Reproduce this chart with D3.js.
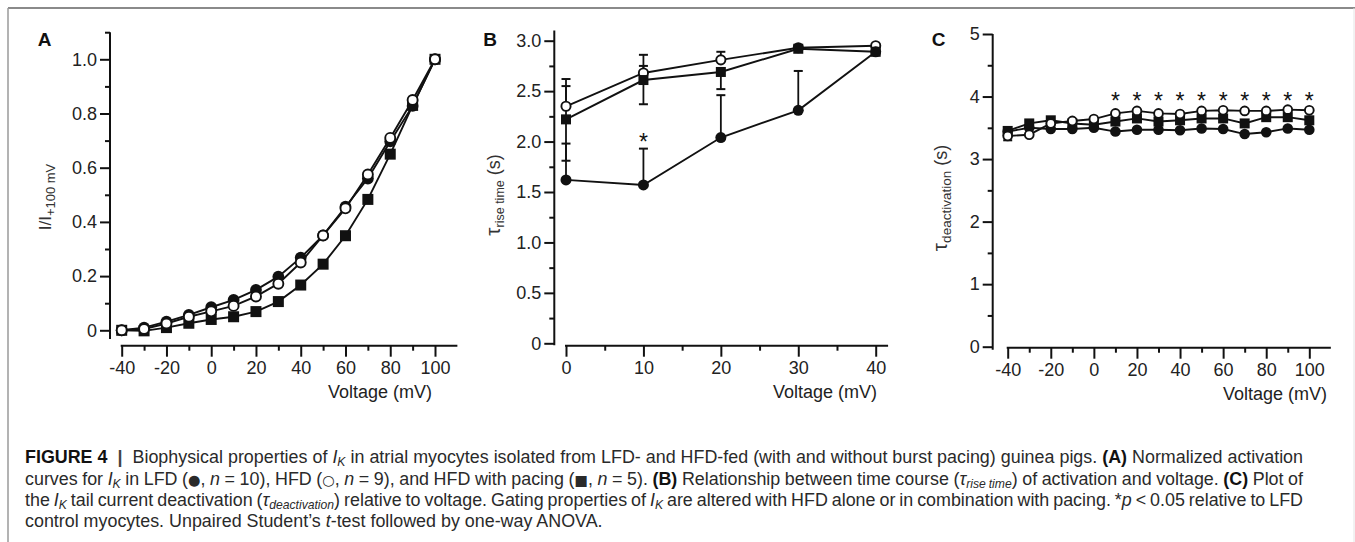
<!DOCTYPE html>
<html><head><meta charset="utf-8">
<script src="https://cdn.jsdelivr.net/npm/d3@7"></script>
<style>body{margin:0;background:#fff}svg{display:block}</style>
</head><body>
<svg id="c" width="1355" height="542"></svg>
<script>
// ---------- DATA ----------
const voltageA = [-40,-30,-20,-10,0,10,20,30,40,50,60,70,80,90,100];
const lfdA     = [0,0.01,0.032,0.057,0.085,0.112,0.149,0.198,0.268,0.35,0.456,0.56,0.697,0.828,1.0];
const hfdA     = [0,0.005,0.025,0.05,0.07,0.09,0.125,0.172,0.25,0.35,0.45,0.575,0.71,0.85,1.0];
const pacingA  = [0,-0.002,0.01,0.026,0.04,0.05,0.069,0.106,0.167,0.244,0.349,0.483,0.65,0.83,1.0];

const voltageB = [0,10,20,30,40];
const lfdB     = [1.62,1.57,2.04,2.31,2.89];
const hfdB     = [2.35,2.68,2.81,2.93,2.95];
const pacingB  = [2.22,2.61,2.69,2.92,2.89];
const lfdBUpper    = [1.98,1.93,2.46,2.70,null];
const hfdBUpper    = [2.62,2.86,2.89,null,null];
const pacingBUpper = [2.55,2.75,null,null,null];
const pacingBLower = [1.81,2.37,2.52,null,null];
const starsB = [10];

const voltageC = [-40,-30,-20,-10,0,10,20,30,40,50,60,70,80,90,100];
const lfdC     = [3.44,3.50,3.48,3.48,3.50,3.44,3.47,3.47,3.46,3.49,3.48,3.40,3.43,3.49,3.47];
const hfdC     = [3.37,3.39,3.57,3.61,3.64,3.73,3.77,3.73,3.72,3.77,3.78,3.77,3.77,3.79,3.78];
const pacingC  = [3.45,3.57,3.62,3.57,3.55,3.60,3.65,3.60,3.62,3.65,3.65,3.57,3.67,3.67,3.62];
const hfdCLower = [3.30,null,null,null,null,null,null,null,null,null,null,null,null,null,null];
const starsC = [10,20,30,40,50,60,70,80,90,100];
const starLevelB = 2.04, starLevelC = 4.0;

const yTicksA = [0,0.2,0.4,0.6,0.8,1.0];
const yMinorA = [0.1,0.3,0.5,0.7,0.9,1.1];
const xTicksA = [-40,-20,0,20,40,60,80,100];
const xMinorA = [-30,-10,10,30,50,70,90];
const yTicksB = [0,0.5,1.0,1.5,2.0,2.5,3.0];
const yMinorB = [0.25,0.75,1.25,1.75,2.25,2.75];
const xTicksB = [0,10,20,30,40];
const xMinorB = [5,15,25,35];
const yTicksC = [0,1,2,3,4,5];
const yMinorC = [0.5,1.5,2.5,3.5,4.5];
const xTicksC = xTicksA, xMinorC = xMinorA;

// ---------- SETUP ----------
const FONT = "'Liberation Sans', Arial, Helvetica, sans-serif";
const svg = d3.select("#c");
svg.append("rect").attr("width",1355).attr("height",542).attr("fill","#fff");
// frame
svg.append("line").attr("x1",8).attr("x2",1355).attr("y1",8).attr("y2",8).attr("stroke","#8a8a8a").attr("stroke-width",2);
svg.append("line").attr("x1",8).attr("x2",8).attr("y1",8).attr("y2",542).attr("stroke","#9a9a9a").attr("stroke-width",1.5);
svg.append("line").attr("x1",1354).attr("x2",1354).attr("y1",8).attr("y2",542).attr("stroke","#e4e4e4").attr("stroke-width",1);

function styleAxis(a){
  a.selectAll("line").attr("stroke","#111").attr("stroke-width",2);
  a.selectAll("text").attr("font-family",FONT).attr("font-size",18).attr("fill","#222");
}

function panel(p){
  const g = svg.append("g");
  const x = d3.scaleLinear().domain(p.xDom).range(p.xRange);
  const y = d3.scaleLinear().domain(p.yDom).range(p.yRange);
  // y axis
  const ya = g.append("g").attr("transform",`translate(${p.yAxisX},0)`);
  ya.call(d3.axisLeft(y).tickValues(p.yTicks).tickFormat(p.yFmt).tickSize(10).tickPadding(3));
  ya.append("g").call(d3.axisLeft(y).tickValues(p.yMinor).tickFormat("").tickSize(5));
  ya.selectAll(".domain").remove();
  ya.append("line").attr("x1",0).attr("x2",0).attr("y1",y(p.yExt[0])).attr("y2",y(p.yExt[1]));
  styleAxis(ya);
  // x axis
  const xa = g.append("g").attr("transform",`translate(0,${p.xAxisY})`);
  xa.call(d3.axisBottom(x).tickValues(p.xTicks).tickFormat(d=>String(d)).tickSize(11).tickPadding(5));
  xa.append("g").call(d3.axisBottom(x).tickValues(p.xMinor).tickFormat("").tickSize(5));
  xa.selectAll(".domain").remove();
  xa.append("line").attr("x1",x(p.xExt[0])-1).attr("x2",x(p.xExt[1])).attr("y1",0).attr("y2",0);
  styleAxis(xa);
  // x label
  g.append("text").attr("x",p.xLabelRight).attr("y",p.xAxisY+52).attr("text-anchor","end")
    .attr("font-family",FONT).attr("font-size",18).attr("fill","#222").text("Voltage (mV)");
  // panel letter
  g.append("text").attr("x",p.letterX).attr("y",46).attr("text-anchor","middle")
    .attr("font-family",FONT).attr("font-size",19).attr("font-weight","bold").attr("fill","#111").text(p.letter);
  // y label
  const yl = g.append("text").attr("transform",`translate(${p.yLabelX},${p.yLabelY}) rotate(-90)`)
    .attr("text-anchor","middle").attr("font-family",FONT).attr("fill","#333");
  p.yLabel(yl);

  // error bars
  (p.errors||[]).forEach(e=>{
    p.xs.forEach((v,i)=>{
      const end = e.bound[i]; if(end==null) return;
      const yv = e.vals[i];
      g.append("line").attr("x1",x(v)).attr("x2",x(v)).attr("y1",y(yv)).attr("y2",y(end))
        .attr("stroke","#111").attr("stroke-width",1.8);
      g.append("line").attr("x1",x(v)-4.5).attr("x2",x(v)+4.5).attr("y1",y(end)).attr("y2",y(end))
        .attr("stroke","#111").attr("stroke-width",2);
    });
  });
  // lines
  const line = d3.line().x((d,i)=>x(p.xs[i])).y(d=>y(d));
  p.series.forEach(s=>{
    g.append("path").attr("d",line(s.vals)).attr("fill","none").attr("stroke","#111").attr("stroke-width",1.9);
  });
  // markers
  p.series.forEach(s=>{
    s.vals.forEach((v,i)=>{
      if(s.type==="square"){
        g.append("rect").attr("x",x(p.xs[i])-p.sq/2).attr("y",y(v)-p.sq/2)
          .attr("width",p.sq).attr("height",p.sq).attr("fill","#111");
      } else if(s.type==="open"){
        g.append("circle").attr("cx",x(p.xs[i])).attr("cy",y(v)).attr("r",p.r-0.9)
          .attr("fill","#fff").attr("stroke","#111").attr("stroke-width",1.9);
      } else {
        g.append("circle").attr("cx",x(p.xs[i])).attr("cy",y(v)).attr("r",p.r).attr("fill","#111");
      }
    });
  });
  // stars
  (p.stars||[]).forEach(v=>{
    g.append("text").attr("x",x(v)).attr("y",y(p.starLevel)+12).attr("text-anchor","middle")
      .attr("font-family",FONT).attr("font-size",23).attr("fill","#111").text("*");
  });
}

function subLabel(t, main, mainSize, sub, subSize, tail, tailSize){
  t.append("tspan").attr("font-size",mainSize).text(main);
  t.append("tspan").attr("font-size",subSize).attr("dy",4).text(sub);
  t.append("tspan").attr("font-size",tailSize).attr("dy",-4).text(tail);
}

panel({
  letter:"A", letterX:44.5,
  xDom:[-40,100], xRange:[121.7,435], yDom:[0,1], yRange:[330.3,59.3],
  yAxisX:110, xAxisY:345.7, yExt:[-0.032,1.1], xExt:[-40,110],
  yTicks:yTicksA, yMinor:yMinorA, xTicks:xTicksA, xMinor:xMinorA,
  yFmt:d=> d===0?"0":d3.format(".1f")(d),
  xLabelRight:432, yLabelX:51, yLabelY:197,
  yLabel:t=>subLabel(t,"I/I",17,"+100 mV",13,"",13),
  xs:voltageA, r:5.9, sq:11,
  series:[{vals:lfdA,type:"filled"},{vals:pacingA,type:"square"},{vals:hfdA,type:"open"}]
});

panel({
  letter:"B", letterX:490,
  xDom:[0,40], xRange:[566,875.7], yDom:[0,3], yRange:[343.3,40.7],
  yAxisX:554.3, xAxisY:345.7, yExt:[-0.02,3.1], xExt:[0,41.6],
  yTicks:yTicksB, yMinor:yMinorB, xTicks:xTicksB, xMinor:xMinorB,
  yFmt:d=> d===0?"0":d3.format(".1f")(d),
  xLabelRight:877, yLabelX:500, yLabelY:195,
  yLabel:t=>subLabel(t,"τ",21,"rise time",12.5," (s)",18),
  xs:voltageB, r:5.5, sq:10,
  errors:[{vals:lfdB,bound:lfdBUpper},{vals:hfdB,bound:hfdBUpper},{vals:pacingB,bound:pacingBUpper},{vals:pacingB,bound:pacingBLower}],
  series:[{vals:hfdB,type:"open"},{vals:lfdB,type:"filled"},{vals:pacingB,type:"square"}],
  stars:starsB, starLevel:starLevelB
});

panel({
  letter:"C", letterX:938.5,
  xDom:[-40,100], xRange:[1007.7,1309.3], yDom:[0,5], yRange:[346.7,34],
  yAxisX:992.7, xAxisY:347.7, yExt:[-0.05,5], xExt:[-40,110],
  yTicks:yTicksC, yMinor:yMinorC, xTicks:xTicksC, xMinor:xMinorC,
  yFmt:d3.format("d"),
  xLabelRight:1327, yLabelX:947, yLabelY:198,
  yLabel:t=>subLabel(t,"τ",21,"deactivation",13.5," (s)",18),
  xs:voltageC, r:5.3, sq:10,
  errors:[{vals:hfdC,bound:hfdCLower}],
  series:[{vals:lfdC,type:"filled"},{vals:pacingC,type:"square"},{vals:hfdC,type:"open"}],
  stars:starsC, starLevel:starLevelC
});

// ---------- CAPTION ----------
const IK = [{t:"I",s:"i"},{t:"K",s:"subi"}];
const captionLines = [
  [{t:"FIGURE 4",s:"b"},{t:"  |  ",s:"bar"},{t:"Biophysical properties of "},...IK,
   {t:" in atrial myocytes isolated from LFD- and HFD-fed (with and without burst pacing) guinea pigs. "},
   {t:"(A)",s:"b"},{t:" Normalized activation"}],
  [{t:"curves for "},...IK,{t:" in LFD ("},{t:"●",s:"sym"},{t:", "},{t:"n",s:"i"},{t:" = 10), HFD ("},{t:"○",s:"sym"},{t:", "},
   {t:"n",s:"i"},{t:" = 9), and HFD with pacing ("},{t:"■",s:"sym"},{t:", "},{t:"n",s:"i"},{t:" = 5). "},{t:"(B)",s:"b"},
   {t:" Relationship between time course ("},{t:"τ",s:"i"},{t:"rise time",s:"subi"},{t:") of activation and voltage. "},
   {t:"(C)",s:"b"},{t:" Plot of"}],
  [{t:"the "},...IK,{t:" tail current deactivation ("},{t:"τ",s:"i"},{t:"deactivation",s:"subi"},
   {t:") relative to voltage. Gating properties of "},...IK,{t:" are altered with HFD alone or in combination with pacing. *"},
   {t:"p",s:"i"},{t:" < 0.05 relative to LFD"}],
  [{t:"control myocytes. Unpaired Student’s "},{t:"t",s:"i"},{t:"-test followed by one-way ANOVA."}]
];
const capBase = [463,485,506,527];
const capX = 25, capRight = 1303;

function buildLine(segs, yb, fs){
  const t = svg.append("text").attr("x",capX).attr("y",yb).attr("font-family",FONT)
    .attr("font-size",fs).attr("fill","#2a2a2a").attr("xml:space","preserve").style("white-space","pre");
  let shifted = false;
  segs.forEach(sg=>{
    const ts = t.append("tspan").text(sg.t);
    const isSub = sg.s==="subi";
    if(isSub && !shifted){ ts.attr("dy",3); shifted=true; }
    else if(!isSub && shifted){ ts.attr("dy",-3); shifted=false; }
    if(sg.s==="b") ts.attr("font-weight","bold").attr("fill","#111");
    if(sg.s==="bar") ts.attr("font-weight","bold").attr("fill","#444");
    if(sg.s==="i") ts.attr("font-style","italic");
    if(isSub) ts.attr("font-style","italic").attr("font-size",fs*0.68);
    if(sg.s==="sym") ts.attr("font-family","'DejaVu Sans', sans-serif").attr("font-size",fs*0.8);
  });
  return t;
}
// choose font size so first line fills the caption width
let fs = 16;
const probe = buildLine(captionLines[0], -100, fs);
const w0 = probe.node().getComputedTextLength();
probe.remove();
fs = fs * (capRight-capX) / w0;
captionLines.forEach((segs,i)=>{
  const t = buildLine(segs, capBase[i], fs);
  if(i<3){
    const w = t.node().getComputedTextLength();
    const spaces = segs.map(s=>s.t).join("").split(" ").length-1;
    const ws = ((capRight-capX) - w)/spaces;
    t.style("word-spacing", ws+"px");
  }
});
</script>
</body></html>
